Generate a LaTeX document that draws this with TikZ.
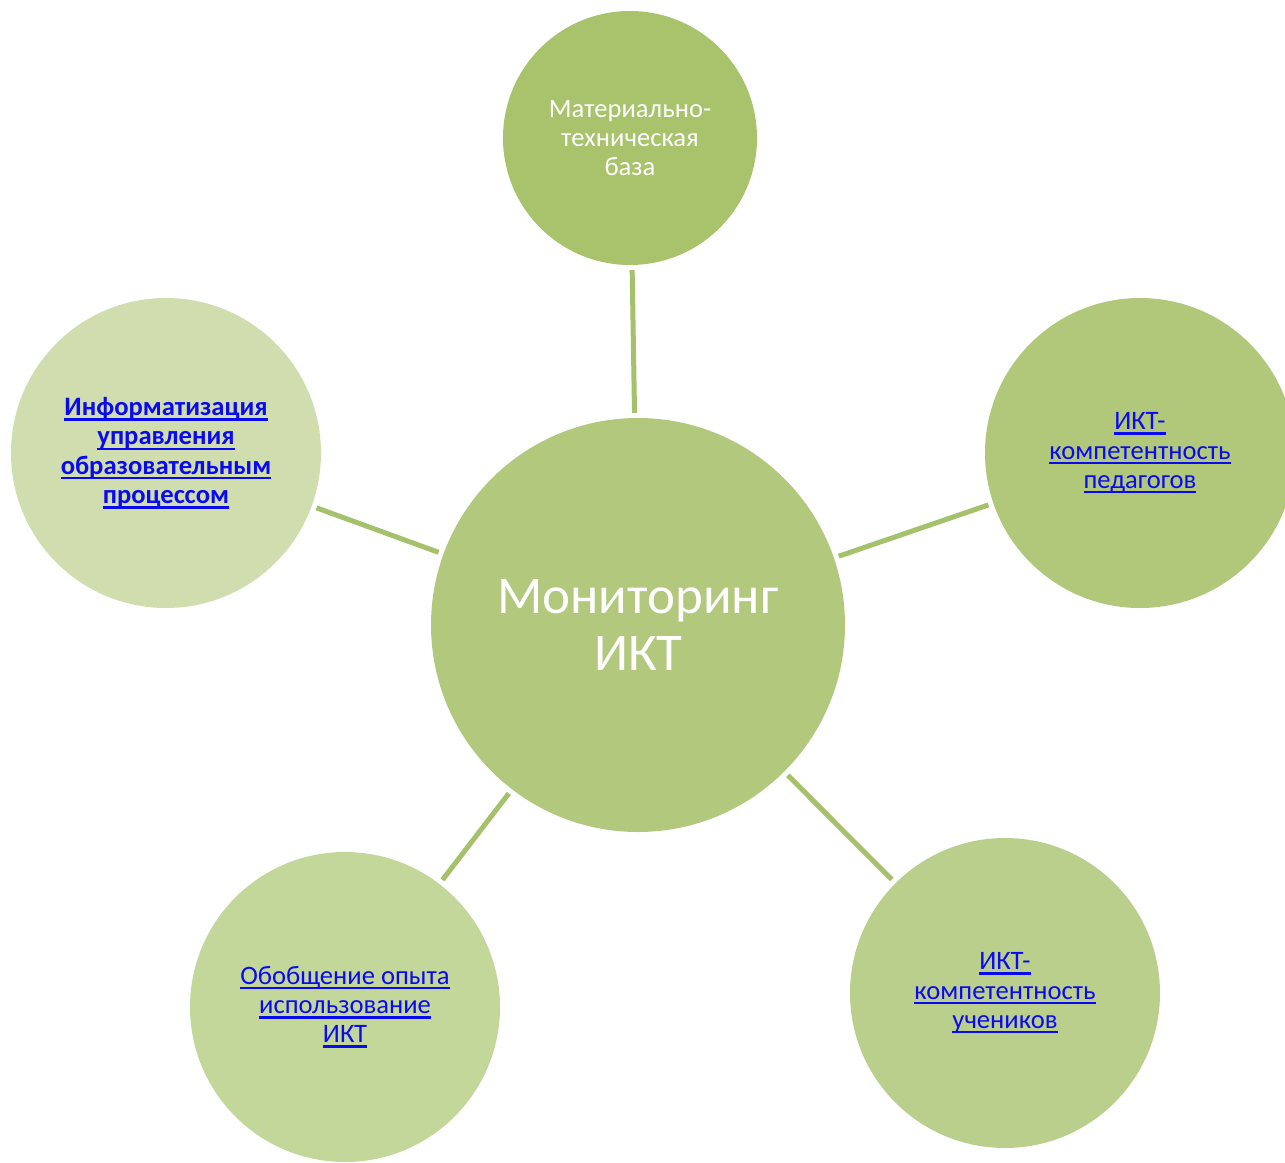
\documentclass[tikz,border=0pt]{standalone}
\usepackage{fontspec}
\setmainfont{Carlito}
\usepackage{tikz}
\definecolor{hubgreen}{HTML}{B2C97D}
\definecolor{topgreen}{HTML}{A8C36B}
\definecolor{rgtgreen}{HTML}{B1C87A}
\definecolor{lftgreen}{HTML}{D0DEAF}
\definecolor{blgreen}{HTML}{C4D79B}
\definecolor{brgreen}{HTML}{BBCF8C}
\definecolor{spoke}{HTML}{A6C16B}
\definecolor{linkblue}{HTML}{0A0AF0}
\newsavebox{\lnkbox}
\newcommand{\lnk}[1]{\textcolor{linkblue}{\sbox{\lnkbox}{#1}\rlap{\usebox{\lnkbox}}\rule[-5pt]{\wd\lnkbox}{2.4pt}}}

\begin{document}
\begin{tikzpicture}[x=1pt,y=-1pt,
 hub/.style={circle,fill=hubgreen,minimum size=414pt,inner sep=0pt,align=center,text=white,
  font=\fontsize{53}{57}\selectfont},
 sat/.style={circle,minimum size=310pt,inner sep=0pt,align=center,
  font=\fontsize{26.6}{29.3}\selectfont},
 link/.style={draw=spoke,line width=5pt,shorten <=5pt,shorten >=5pt}]
\useasboundingbox (0,0) rectangle (1285,1162);
\node[hub] (monit) at (638,625) {Мониторинг\\ИКТ};
\node[sat,fill=topgreen,minimum size=254pt,text=white] (base) at (630,138) {Материально-\\техническая\\база};
\node[sat,fill=rgtgreen] (teach) at (1140,453) {\lnk{ИКТ-}\\\lnk{компетентность}\\\lnk{педагогов}};
\node[sat,fill=lftgreen,font=\fontsize{26.6}{29.3}\selectfont\bfseries] (manage) at (166,453)
 {\lnk{Информатизация}\\\lnk{управления}\\\lnk{образовательным}\\\lnk{процессом}};
\node[sat,fill=blgreen] (share) at (345,1007) {\lnk{Обобщение опыта}\\\lnk{использование}\\\lnk{ИКТ}};
\node[sat,fill=brgreen] (pupil) at (1005,993) {\lnk{ИКТ-}\\\lnk{компетентность}\\\lnk{учеников}};
% spokes
\draw[link] (monit) -- (base);
\draw[link] (monit) -- (teach);
\draw[link] (monit) -- (manage);
\draw[link] (monit) -- (share);
\draw[link] (monit) -- (pupil);
\end{tikzpicture}
\end{document}
